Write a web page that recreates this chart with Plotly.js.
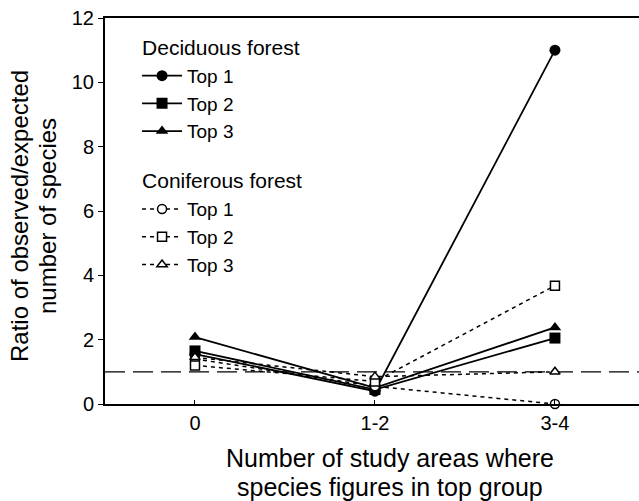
<!DOCTYPE html>
<html><head><meta charset="utf-8">
<script src="https://cdn.plot.ly/plotly-3.0.1.min.js"></script>
<style>body{margin:0;background:#fff}#chart{width:639px;height:501px}</style>
</head><body><div id="chart"></div>
<script>
const categories = ["0", "1-2", "3-4"];
const decTop1 = [1.55, 0.4, 11.0];
const decTop2 = [1.65, 0.45, 2.05];
const decTop3 = [2.08, 0.5, 2.38];
const conTop1 = [1.4, 0.55, 0.0];
const conTop2 = [1.2, 0.7, 3.68];
const conTop3 = [1.45, 0.85, 1.0];
const seriesNames = ["Top 1", "Top 2", "Top 3"];
const groupTitles = ["Deciduous forest", "Coniferous forest"];
const yTicks = [0, 2, 4, 6, 8, 10, 12];
const refValue = 1;
const xTitleLines = ["Number of study areas where", "species figures in top group"];
const yTitleLines = ["Ratio of observed/expected", "number of species"];

const xIdx = categories.map((c, i) => i);
const fam = "Liberation Sans, Arial, sans-serif";
const font = {family: fam, size: 20, color: "#000"};
const legFont = {family: fam, size: 19, color: "#000"};
const groupFont = {family: fam, size: 21, color: "#000"};
const yTitleFont = {family: fam, size: 24, color: "#000"};
const xTitleFont = {family: fam, size: 25, color: "#000"};

function tr(y, name, group, title, symbol, dashed) {
  return {
    x: xIdx, y: y, name: name, type: "scatter", mode: "lines+markers",
    legendgroup: group, legendgrouptitle: {text: title, font: groupFont},
    line: {color: "#000", width: dashed ? 1.5 : 1.8, dash: dashed ? "4px,4px" : "solid"},
    marker: {symbol: symbol, size: dashed ? 9 : 11, color: dashed ? "#fff" : "#000",
             line: {color: "#000", width: dashed ? 1.5 : 0}},
    cliponaxis: false
  };
}
const data = [
  tr(decTop1, seriesNames[0], "d", groupTitles[0], "circle", false),
  tr(decTop2, seriesNames[1], "d", groupTitles[0], "square", false),
  tr(decTop3, seriesNames[2], "d", groupTitles[0], "triangle-up", false),
  tr(conTop1, seriesNames[0], "c", groupTitles[1], "circle", true),
  tr(conTop2, seriesNames[1], "c", groupTitles[1], "square", true),
  tr(conTop3, seriesNames[2], "c", groupTitles[1], "triangle-up", true)
];

const layout = {
  width: 639, height: 501,
  margin: {l: 105, r: 0, t: 18, b: 97},
  paper_bgcolor: "#fff", plot_bgcolor: "#fff",
  font: font,
  showlegend: true,
  legend: {x: 0.06, y: 0.978, xanchor: "left", yanchor: "top", bgcolor: "rgba(0,0,0,0)",
           tracegroupgap: 20, font: legFont, itemwidth: 40, traceorder: "grouped"},
  xaxis: {
    range: [-0.5, 2.467], tickvals: xIdx, ticktext: categories,
    showline: true, linecolor: "#000", linewidth: 2, mirror: true,
    ticks: "inside", ticklen: 4, tickcolor: "#000", showgrid: false, zeroline: false,
    tickfont: font
  },
  yaxis: {
    range: [0, 12], tickvals: yTicks,
    showline: true, linecolor: "#000", linewidth: 2,
    ticks: "outside", ticklen: 5, tickcolor: "#000", showgrid: false, zeroline: false,
    tickfont: font
  },
  annotations: [
    {xref: "paper", yref: "paper", x: (390 - 105) / 534, y: -(458 - 404) / 386, text: xTitleLines[0],
     showarrow: false, font: xTitleFont, xanchor: "center", yanchor: "middle"},
    {xref: "paper", yref: "paper", x: (390 - 105) / 534, y: -(487 - 404) / 386, text: xTitleLines[1],
     showarrow: false, font: xTitleFont, xanchor: "center", yanchor: "middle"},
    {xref: "paper", yref: "paper", x: -(105 - 19) / 534, y: (404 - 216) / 386, text: yTitleLines[0],
     showarrow: false, font: yTitleFont, textangle: -90, xanchor: "center", yanchor: "middle"},
    {xref: "paper", yref: "paper", x: -(105 - 47) / 534, y: (404 - 216) / 386, text: yTitleLines[1],
     showarrow: false, font: yTitleFont, textangle: -90, xanchor: "center", yanchor: "middle"}
  ],
  shapes: [{type: "line", xref: "paper", x0: 0, x1: 1, yref: "y", y0: refValue, y1: refValue,
            line: {color: "#000", width: 1.3, dash: "20px,8px"}, layer: "below"}]
};
Plotly.newPlot("chart", data, layout, {displayModeBar: false, staticPlot: true});
</script></body></html>
